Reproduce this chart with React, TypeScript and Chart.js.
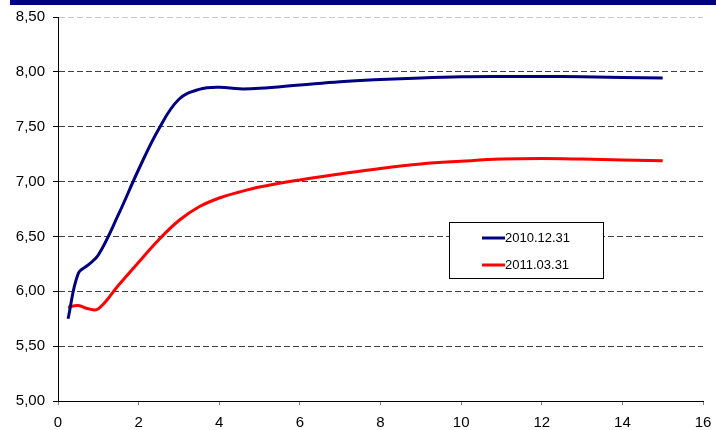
import React, { useEffect, useRef } from "react";
import { Chart, registerables } from "chart.js";

Chart.register(...registerables);

const maturities = [0.25, 0.5, 0.75, 1, 1.5, 2, 2.5, 3, 3.5, 4, 4.5, 5, 6, 7, 8, 9, 10, 11, 12, 13, 15];
const series2010 = [5.75, 6.16, 6.24, 6.33, 6.7, 7.11, 7.48, 7.75, 7.84, 7.86, 7.845, 7.85, 7.88, 7.91, 7.93, 7.945, 7.955, 7.958, 7.958, 7.955, 7.943];
const series2011 = [5.855, 5.87, 5.84, 5.84, 6.055, 6.265, 6.47, 6.645, 6.77, 6.85, 6.905, 6.95, 7.015, 7.07, 7.12, 7.16, 7.185, 7.205, 7.21, 7.205, 7.19];
const seriesLabels = ["2010.12.31", "2011.03.31"];
const seriesColors = ["#000080", "#ff0000"];
const yMin = 5;
const yMax = 8.5;
const yStep = 0.5;
const xMin = 0;
const xMax = 16;
const xStep = 2;

const FONT = "'Liberation Sans', Arial, sans-serif";

const decorPlugin = {
  id: "decor",
  beforeDraw(chart: any) {
    const ctx = chart.ctx;
    ctx.save();
    ctx.fillStyle = "#ffffff";
    ctx.fillRect(0, 0, chart.width, chart.height);
    ctx.fillStyle = "#000080";
    ctx.fillRect(10, 0, chart.width - 10, 5);
    ctx.restore();
  },
  afterDatasetsDraw(chart: any) {
    const ctx = chart.ctx;
    const bx = 449.5, by = 222.5, bw = 154, bh = 56;
    ctx.save();
    ctx.fillStyle = "#ffffff";
    ctx.fillRect(bx, by, bw, bh);
    ctx.strokeStyle = "#000000";
    ctx.lineWidth = 1;
    ctx.strokeRect(bx, by, bw, bh);
    const rows = [238, 265];
    chart.data.datasets.forEach((ds: any, i: number) => {
      const y = rows[i];
      ctx.strokeStyle = ds.borderColor;
      ctx.lineWidth = 3;
      ctx.beginPath();
      ctx.moveTo(482, y);
      ctx.lineTo(505, y);
      ctx.stroke();
      ctx.fillStyle = "#000000";
      ctx.font = `13px ${FONT}`;
      ctx.textBaseline = "middle";
      ctx.textAlign = "left";
      ctx.fillText(ds.label, 505, y + 0.5);
    });
    ctx.restore();
  },
};

export default function App() {
  const ref = useRef<HTMLCanvasElement>(null);
  useEffect(() => {
    if (!ref.current) return;
    const mk = (vals: number[]) => maturities.map((x, i) => ({ x, y: vals[i] }));
    const chart = new Chart(ref.current, {
      type: "line",
      data: {
        datasets: [
          {
            label: seriesLabels[0],
            data: mk(series2010),
            borderColor: seriesColors[0],
            borderWidth: 3,
            pointRadius: 0,
            tension: 0.4,
            fill: false,
          },
          {
            label: seriesLabels[1],
            data: mk(series2011),
            borderColor: seriesColors[1],
            borderWidth: 3,
            pointRadius: 0,
            tension: 0.4,
            fill: false,
          },
        ],
      },
      options: {
        animation: false,
        responsive: false,
        maintainAspectRatio: false,
        layout: { padding: { top: 17, right: 13, left: 0, bottom: 0 } },
        plugins: { legend: { display: false }, tooltip: { enabled: false } },
        scales: {
          x: {
            type: "linear",
            min: xMin,
            max: xMax,
            ticks: {
              stepSize: xStep,
              color: "#000000",
              font: { family: FONT, size: 15 },
              padding: 9,
              maxRotation: 0,
            },
            grid: {
              drawOnChartArea: false,
              drawTicks: true,
              tickLength: 4,
              tickColor: "#808080",
            },
            border: { display: true, color: "#000000", width: 1 },
            afterFit(scale: any) {
              scale.height = 29;
              scale.paddingRight = 0;
              scale.paddingLeft = 0;
            },
          },
          y: {
            min: yMin,
            max: yMax,
            ticks: {
              stepSize: yStep,
              color: "#000000",
              font: { family: FONT, size: 15 },
              padding: 8,
              callback: (v: any) => Number(v).toFixed(2).replace(".", ","),
            },
            grid: {
              color: (c: any) => (c.tick && c.tick.value === yMax ? "#c8c8c8" : "#404040"),
              lineWidth: 1,
              tickLength: 5,
              tickColor: "#000000",
            },
            border: { display: true, color: "#000000", width: 1, dash: [6, 3] },
            afterFit(scale: any) {
              scale.width = 58;
              scale.paddingTop = 0;
              scale.paddingBottom = 0;
            },
          },
        },
      },
      plugins: [decorPlugin],
    });
    return () => chart.destroy();
  }, []);
  return (
    <div style={{ position: "absolute", left: 0, top: 0, width: 716, height: 430 }}>
      <canvas ref={ref} width={716} height={430} style={{ display: "block", width: 716, height: 430 }} />
    </div>
  );
}
